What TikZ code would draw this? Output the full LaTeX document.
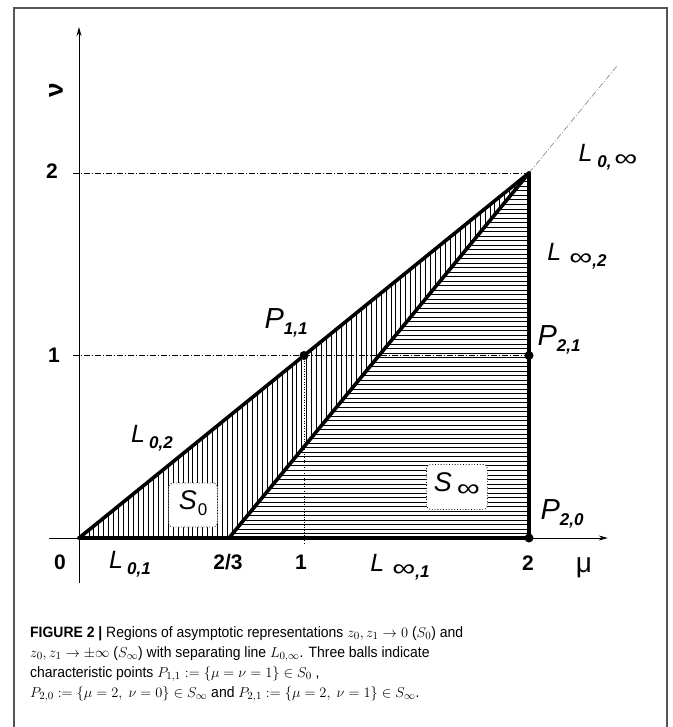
\documentclass[tikz,border=0pt]{standalone}
\usepackage{fontspec}
\setmainfont{Liberation Sans}
\newfontfamily\capfont[FakeStretch=0.93]{Liberation Sans}
\usetikzlibrary{arrows.meta}
\definecolor{framecol}{HTML}{555555}
\newcommand\plab[4][4pt]{{\fontsize{#4}{#4}\selectfont\itshape #2}\kern#1\raisebox{-6pt}{\fontsize{17}{17}\selectfont\bfseries\itshape #3}}
\newcommand\binf{\raisebox{0.5pt}{\scalebox{1.9}[1.45]{\mdseries\upshape ∞}}}
\begin{document}
\begin{tikzpicture}[x=1pt,y=-1pt,
  thickln/.style={line width=3.6pt, line cap=round},
  hatch/.style={line width=0.75pt},
  guide/.style={line width=0.6pt, dash pattern=on 6pt off 2pt on 1pt off 2pt},
  axisln/.style={line width=0.9pt, -{Stealth[length=9pt,width=5pt]}},
  ball/.style={circle, fill=black, inner sep=0pt, minimum size=9pt},
  regbox/.style={draw, dotted, fill=white, rounded corners=4pt, line width=0.8pt, inner sep=0pt},
  lab/.style={inner sep=0pt},
  tk/.style={font=\fontsize{21}{21}\selectfont\bfseries, inner sep=0pt},
  capline/.style={anchor=base west, inner sep=0pt, font=\capfont\fontsize{15}{15}\selectfont}]
\useasboundingbox (0,0) rectangle (672,727);
\draw[framecol, line width=1.3pt] (14,727) -- (14,8) -- (667,8) -- (667,727);

\begin{scope}[shift={(79,538)}, x=225pt, y=182.5pt]
  \coordinate (O) at (0,0);
  \coordinate (A) at (2/3,0);
  \coordinate (B) at (2,0);
  \coordinate (C) at (2,2);
  \coordinate (P11) at (1,1);
  \coordinate (P21) at (2,1);
  \coordinate (M1) at (1,0);
  \coordinate (M1t) at (1,-0.038);
  \coordinate (Y1) at (-0.027,1);
  \coordinate (Y2) at (-0.027,2);
  \coordinate (Xs) at (-0.133,0);
  \coordinate (Xe) at (2.35,0);
  \coordinate (Ys) at (0,-0.247);
  \coordinate (Ye) at (0,2.8);
  \coordinate (E) at (2.39,2.585);
  % hatching S0
  \begin{scope}
    \clip (O) -- (A) -- (C) -- cycle;
    \foreach \k in {1,...,91} \draw[hatch] (\k*0.022,0) -- (\k*0.022,2);
  \end{scope}
  % hatching S_inf
  \begin{scope}
    \clip (A) -- (B) -- (C) -- cycle;
    \foreach \k in {1,...,81} \draw[hatch] (0,\k*0.0247) -- (2,\k*0.0247);
  \end{scope}
  % guides
  \draw[guide] (Y2) -- (C);
  \draw[guide] (Y1) -- (P21);
  \draw[line width=0.6pt, dotted] (P11) -- (M1t);
  \draw[guide, gray] (C) -- (E);
  % axes
  \draw[axisln] (Xs) -- (Xe);
  \draw[axisln] (Ys) -- (Ye);
  % thick lines
  \draw[thickln] (O) -- (C);
  \draw[thickln] (A) -- (C);
  \draw[thickln] (O) -- (B) -- (C);
  % balls
  \node[ball] (b11) at (P11) {};
  \node[ball] (b21) at (P21) {};
  \node[ball] (b20) at (B) {};
\end{scope}

% region boxes
\node[regbox, minimum width=49pt, minimum height=44pt] (s0) at (193,505) {};
\node[lab] at (193,503) {\plab[1pt]{S}{\mdseries\upshape 0}{27}};
\node[regbox, minimum width=61pt, minimum height=45pt] (sinf) at (457,487) {};
\node[lab] at (457,485) {\plab[5pt]{S}{\binf}{27}};

% axis labels
\node[lab, rotate=90, font=\fontsize{26}{26}\selectfont\bfseries] (nu) at (56,90) {ν};
\node[lab, font=\fontsize{28}{28}\selectfont] (mu) at (584,568) {μ};
\node[tk] (t2y) at (52,171) {2};
\node[tk] (t1y) at (54,355) {1};
\node[tk] (t0) at (60,562) {0};
\node[tk] (t23) at (228,562) {2/3};
\node[tk] (t1x) at (301,562) {1};
\node[tk] (t2x) at (528,563) {2};

% line labels
\node[lab] (l01) at (130,564) {\plab{L}{0,1}{25}};
\node[lab] (linf1) at (400,567) {\plab[8pt]{L}{\binf,1}{25}};
\node[lab] (l02) at (152,438) {\plab{L}{0,2}{25}};
\node[lab] (l0inf) at (608,157) {\plab[5pt]{L}{0,\,\binf}{25}};
\node[lab] (linf2) at (577,256) {\plab[8pt]{L}{\binf,2}{25}};
\node[lab] (lp11) at (286,323) {\plab[0pt]{P}{1,1}{29}};
\node[lab] (lp21) at (559,340) {\plab[0pt]{P}{2,1}{29}};
\node[lab] (lp20) at (562,514) {\plab[0pt]{P}{2,0}{29}};

% caption
\node[capline] (cap1) at (30,637) {\textbf{FIGURE 2 |} Regions of asymptotic representations $z_0, z_1 \to 0$ ($S_0$) and};
\node[capline] (cap2) at (30,657) {$z_0, z_1 \to \pm\infty$ ($S_\infty$) with separating line $L_{0,\infty}$. Three balls indicate};
\node[capline] (cap3) at (30,677) {characteristic points $P_{1,1} := \{\mu = \nu = 1\} \in S_0$ ,};
\node[capline] (cap4) at (30,697) {$P_{2,0} := \{\mu = 2,\ \nu = 0\} \in S_\infty$ and $P_{2,1} := \{\mu = 2,\ \nu = 1\} \in S_\infty$.};
\end{tikzpicture}
\end{document}
